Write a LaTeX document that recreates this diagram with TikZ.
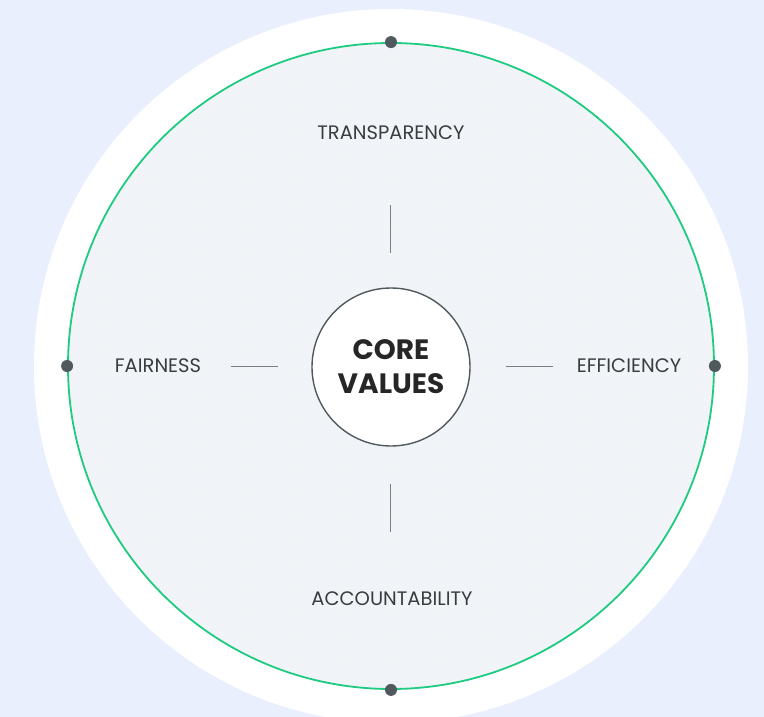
\documentclass[tikz,border=0pt]{standalone}
\usepackage{fontspec}
\setmainfont{Poppins}
\usetikzlibrary{positioning,patterns}
\definecolor{bgblue}{HTML}{E9EFFC}
\definecolor{innergrey}{HTML}{F0F3F7}
\definecolor{ringgreen}{HTML}{1FCB80}
\definecolor{pingrey}{HTML}{505A5E}
\definecolor{textgrey}{HTML}{3A3D40}
\definecolor{tickgrey}{HTML}{7A7F83}

\begin{document}
\begin{tikzpicture}
[x=1pt, y=-1pt,
 ring/.style={circle, line width=1.8pt, draw=ringgreen, inner sep=0pt},
 core/.style={circle, line width=1.4pt, draw=pingrey, fill=white, inner sep=0pt,
   align=center, text=black!85, font=\fontsize{28}{34}\selectfont\bfseries},
 value/.style={font=\fontsize{19.5}{23}\selectfont, text=textgrey},
 tick/.style={line width=0.9pt, draw=tickgrey},
 pin/.style={circle, fill=pingrey, inner sep=0pt, minimum size=12pt}]
\fill[bgblue] (0,0) rectangle (764,717);
\useasboundingbox (0,0) rectangle (764,717);
\fill[white] (391,366) circle (357);
\fill[innergrey] (391,366) circle (323);
\fill[pattern=dots, pattern color=white] (391,366) circle (323);
\node[ring, minimum size=646pt] (ring) at (391,366) {};
\node[core, minimum size=158pt] (core) at (391,367) {CORE\\VALUES};
% values round the core
\node[value] (top) at (391,133) {TRANSPARENCY};
\node[value] (left) at (158,366) {FAIRNESS};
\node[value] (right) at (629,366) {EFFICIENCY};
\node[value] (bottom) at (392,599) {ACCOUNTABILITY};
% short ticks
\coordinate (t1) at (390,205); \coordinate (t2) at (390,253);
\coordinate (b1) at (390,484); \coordinate (b2) at (390,532);
\coordinate (l1) at (231,366); \coordinate (l2) at (278,366);
\coordinate (r1) at (506,366); \coordinate (r2) at (553,366);
\draw[tick] (t1) -- (t2);
\draw[tick] (b1) -- (b2);
\draw[tick] (l1) -- (l2);
\draw[tick] (r1) -- (r2);
% pins on the ring
\node[pin] (pn) at (ring.north) {};
\node[pin] (ps) at (ring.south) {};
\node[pin] (pw) at (ring.west) {};
\node[pin] (pe) at (ring.east) {};
\end{tikzpicture}
\end{document}
